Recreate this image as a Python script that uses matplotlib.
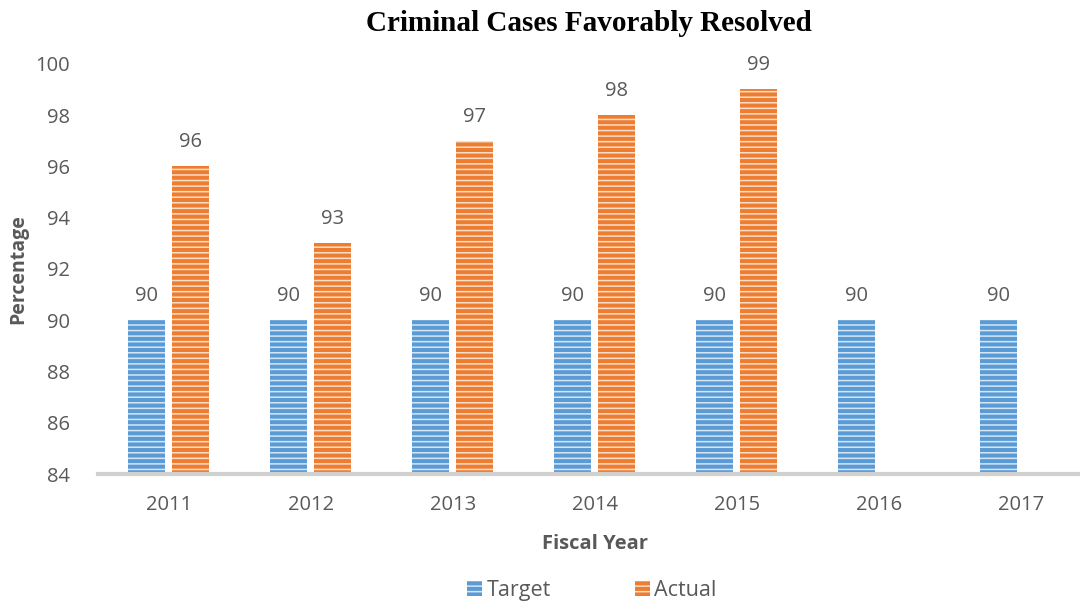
import numpy as np
import matplotlib.pyplot as plt

years = ['2011', '2012', '2013', '2014', '2015', '2016', '2017']
target = [90, 90, 90, 90, 90, 90, 90]
actual = [96, 93, 97, 98, 99, None, None]

blue = '#5b9bd5'
orange = '#ed7d31'
grey = '#595959'

plt.rcParams['font.family'] = ['Open Sans', 'DejaVu Sans']
plt.rcParams['hatch.linewidth'] = 1.1

fig = plt.figure(figsize=(10.8, 6.01), dpi=100)
# axis runs a bit past the right edge, like the source image
ax = fig.add_axes([0.0907, 0.211, 0.920, 0.683])

x = np.arange(len(years))
w = 0.26
off = 0.155
stripe = (1, 1, 1, 0.75)
t_bars = ax.bar(x - off, target, w, color=blue, edgecolor=stripe, linewidth=0, hatch='---', label='Target')
act_x = [xi + off for xi, v in zip(x, actual) if v is not None]
act_v = [v for v in actual if v is not None]
a_bars = ax.bar(act_x, act_v, w, color=orange, edgecolor=stripe, linewidth=0, hatch='---', label='Actual')

for xi, v in zip(x - off, target):
    ax.text(xi, v + 0.55, str(v), ha='center', va='bottom', fontsize=14.5, color=grey)
for xi, v in zip(act_x, act_v):
    ax.text(xi, v + 0.55, str(v), ha='center', va='bottom', fontsize=14.5, color=grey)

ax.set_ylim(84, 100)
ax.set_yticks(range(84, 101, 2))
ax.set_xlim(-0.5, 6.5)
ax.set_xticks(x)
ax.set_xticklabels(years)
ax.tick_params(axis='both', length=0, labelsize=14.5, labelcolor=grey)
ax.tick_params(axis='x', pad=15)
ax.tick_params(axis='y', pad=20)
for s in ['top', 'right', 'left']:
    ax.spines[s].set_visible(False)
ax.spines['bottom'].set_color('#d0d0d0')
ax.spines['bottom'].set_linewidth(3)

ax.set_xlabel('Fiscal Year', fontsize=14.5, fontweight='bold', color=grey, labelpad=14)
ax.set_ylabel('Percentage', fontsize=14, fontweight='bold', color=grey, labelpad=5)
fig.text(0.545, 0.961, 'Criminal Cases Favorably Resolved', fontsize=21, fontweight='bold',
         family='Liberation Serif', ha='center', va='center')

fig.legend(handles=[t_bars, a_bars], loc='lower center', bbox_to_anchor=(0.548, -0.033), ncol=2,
           frameon=False, fontsize=15.5, labelcolor=grey, handlelength=0.7, handleheight=0.7,
           handletextpad=0.2, columnspacing=3.9)

fig.savefig('out.png', dpi=100)
